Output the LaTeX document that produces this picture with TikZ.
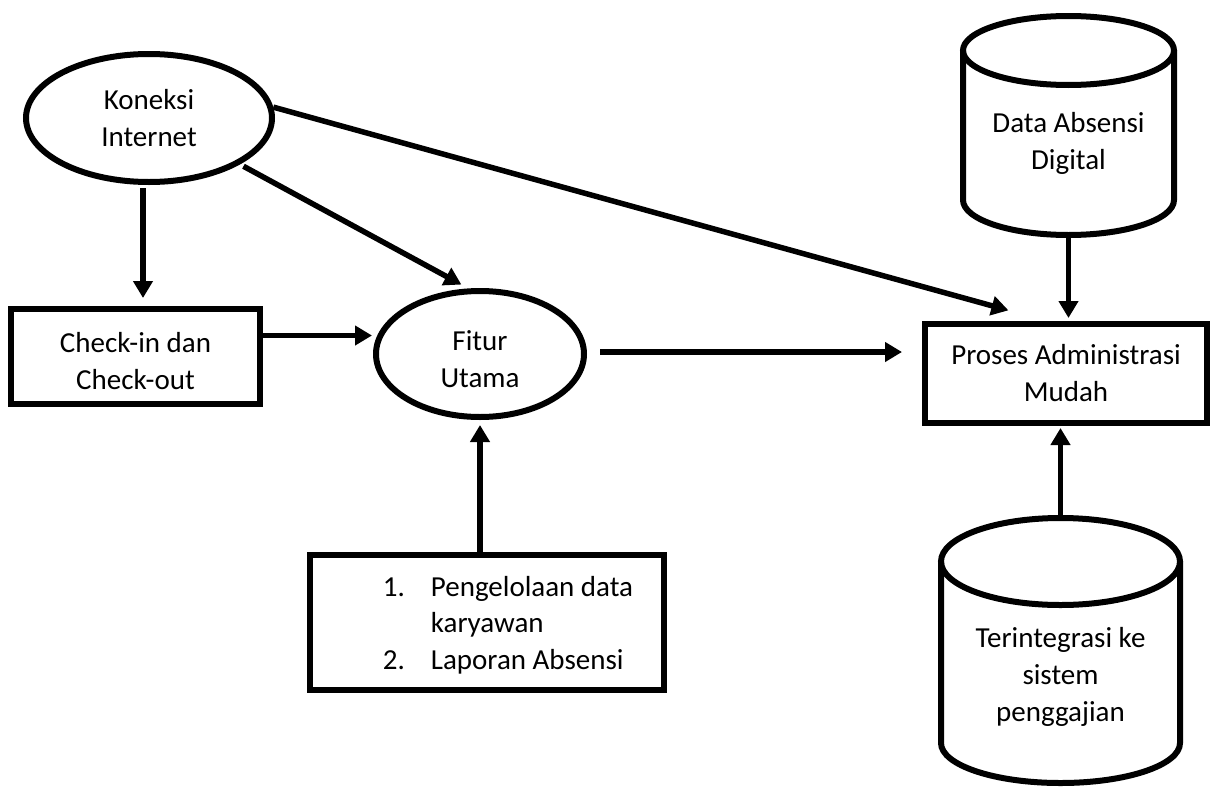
\documentclass[tikz,border=0pt]{standalone}
\usepackage{fontspec}
\setmainfont{Carlito}
\usetikzlibrary{arrows.meta,calc,shapes.geometric}
\begin{document}
\begin{tikzpicture}[x=1pt,y=-1pt,
  shp/.style={draw, line width=6pt, inner sep=0pt, font=\fontsize{29}{37}\selectfont, align=center},
  oval/.style={shp, ellipse},
  boxn/.style={shp, rectangle},
  lbl/.style={inner sep=0pt, font=\fontsize{29}{37}\selectfont, align=center},
  arr/.style={line width=5.5pt, -{Triangle[length=17pt,width=19pt]}},
  cyl/.style={line width=6pt}]
\useasboundingbox (0,0) rectangle (1213,787);
% nodes
\node[oval, minimum width=246pt, minimum height=128pt] (kon) at (149,118) {Koneksi\\Internet};
\node[boxn, minimum width=249pt, minimum height=95pt] (ck) at (135.5,356.5) {\rule{0pt}{29pt}Check-in dan\\Check-out};
\node[oval, minimum width=208pt, minimum height=126pt] (fit) at (480,354) {\rule{0pt}{30pt}Fitur\\Utama};
\node[boxn, minimum width=282pt, minimum height=99pt] (pro) at (1066,373.5) {Proses Administrasi\\Mudah};
\node[boxn, minimum width=354pt, minimum height=135pt, font=\fontsize{29}{36.5}\selectfont, align=left] (lst) at (487,622.5)
  {\hspace*{42pt}\raisebox{-9pt}[45pt][45pt]{\begin{tabular}{@{}l@{\hspace{26pt}}l@{}}1.&Pengelolaan data\\&karyawan\\2.&Laporan Absensi\end{tabular}}};
% cylinder: Data Absensi Digital
\draw[cyl] (1068.5,50.5) ellipse [x radius=105.5pt, y radius=34.5pt];
\draw[cyl] (963,50.5) -- (963,200) arc[start angle=180, end angle=360, x radius=105.5pt, y radius=35pt] -- (1174,50.5);
\node[lbl, minimum width=211pt, minimum height=186pt] (dab) at (1068.5,143) {Data Absensi\\Digital};
% cylinder: Terintegrasi
\draw[cyl] (1060.5,561.5) ellipse [x radius=119.5pt, y radius=43.5pt];
\draw[cyl] (941,561.5) -- (941,743) arc[start angle=180, end angle=360, x radius=119.5pt, y radius=40pt] -- (1180,561.5);
\node[lbl, minimum width=239pt, minimum height=322pt] (ter) at (1060.5,677) {Terintegrasi ke\\sistem\\penggajian};
% connectors
\draw[arr, shorten <=3pt, shorten >=8pt] ([xshift=-6pt]kon.south) -- ([xshift=7.5pt]ck.north);
\draw[arr, shorten <=4pt, shorten >=8pt] (kon.-27) -- (fit.100);
\draw[arr, shorten >=40pt] (kon.5) -- ([xshift=-19pt]pro.north);
\draw[arr, shorten >=1pt] ([yshift=21pt]ck.east) -- ([yshift=21pt]ck.east -| fit.west);
\draw[arr, shorten <=13pt, shorten >=20pt] ([yshift=2pt]fit.east) -- ([yshift=2pt]fit.east -| pro.west);
\draw[arr, shorten >=5pt] (lst.north -| fit.south) -- (fit.south);
\draw[arr, shorten >=3pt] (dab.south) -- (dab.south |- pro.north);
\draw[arr, shorten >=2pt] (ter.north) -- (ter.north |- pro.south);
\end{tikzpicture}
\end{document}
